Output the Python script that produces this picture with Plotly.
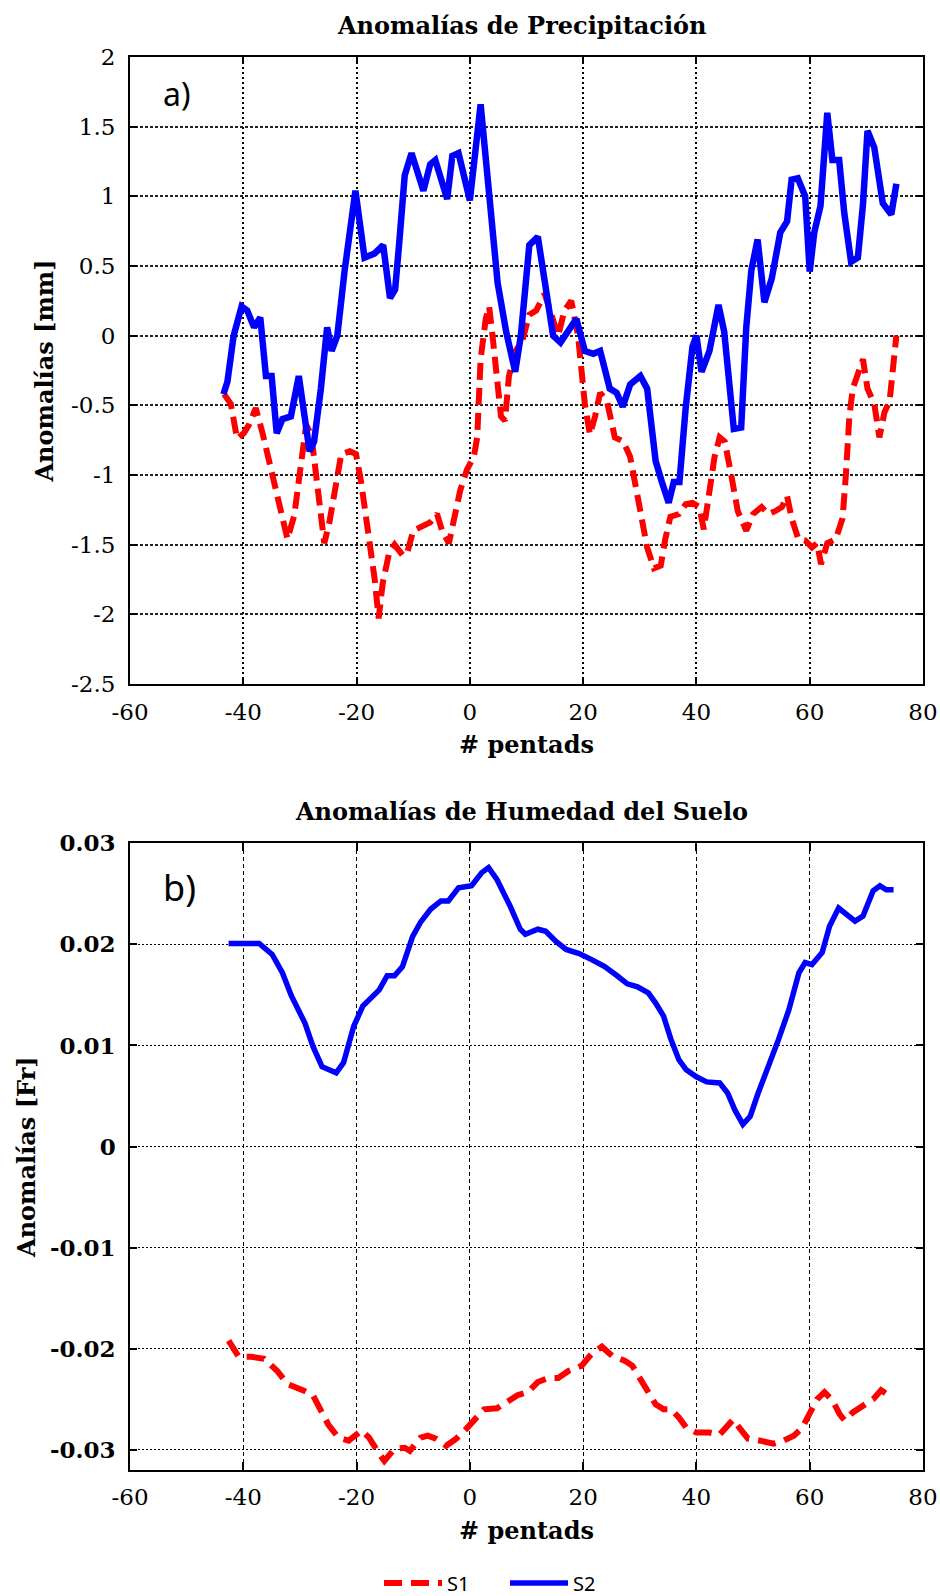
import plotly.graph_objects as go

# ---------------- data ----------------
# Panel a) precipitation anomalies [mm]
a_s1_x = [-43.4,-42.2,-41.1,-39.9,-39.0,-37.8,-36.6,-35.1,-33.3,-32.2,-31.0,-29.8,-28.9,-28.0,-27.2,-26.3,-25.7,-24.8,
          -23.6,-22.7,-21.2,-20.1,-19.2,-18.0,-16.8,-16.1,-15.4,-14.2,-13.3,-11.8,-11.0,-10.0,-8.5,-7.0,-5.8,-4.9,-3.7,
          -2.6,-1.7,-0.5,0.7,1.3,1.9,2.8,3.4,4.0,4.9,5.5,6.2,6.9,8.1,9.3,10.5,11.7,13.2,14.4,15.6,16.7,17.9,19.1,20.3,
          21.2,22.1,23.0,24.2,25.6,27.1,28.3,29.8,31.3,32.5,33.7,34.5,35.4,36.9,38.1,39.3,40.5,41.3,42.0,43.2,44.1,45.0,
          46.1,47.3,48.8,50.0,51.5,52.7,53.9,55.1,56.0,56.8,58.0,59.2,60.4,61.3,62.0,63.1,64.6,65.8,66.4,67.0,67.6,68.5,
          69.4,70.2,71.4,72.3,73.2,74.1,74.7,75.3]
a_s1_y = [-0.42,-0.49,-0.74,-0.70,-0.64,-0.52,-0.70,-0.96,-1.26,-1.46,-1.29,-0.87,-0.64,-0.71,-0.99,-1.34,-1.49,-1.34,
          -1.07,-0.85,-0.83,-0.85,-1.05,-1.37,-1.75,-2.03,-1.78,-1.55,-1.50,-1.58,-1.55,-1.40,-1.37,-1.34,-1.28,-1.40,-1.49,
          -1.28,-1.11,-0.96,-0.87,-0.73,-0.17,0.12,0.21,0.0,-0.35,-0.58,-0.61,-0.29,-0.11,-0.03,0.15,0.18,0.30,0.15,0.0,
          0.18,0.25,0.0,-0.49,-0.71,-0.58,-0.41,-0.47,-0.73,-0.76,-0.87,-1.17,-1.52,-1.67,-1.65,-1.46,-1.30,-1.28,-1.21,
          -1.20,-1.23,-1.39,-1.17,-0.87,-0.73,-0.76,-0.99,-1.26,-1.40,-1.28,-1.23,-1.28,-1.26,-1.23,-1.15,-1.31,-1.46,
          -1.47,-1.52,-1.49,-1.64,-1.49,-1.46,-1.31,-0.99,-0.58,-0.38,-0.26,-0.17,-0.38,-0.49,-0.73,-0.55,-0.47,-0.17,0.0]

a_s2_x = [-43.5,-42.8,-41.7,-40.3,-39.3,-38.1,-37.0,-36.0,-35.0,-34.1,-33.1,-31.6,-30.2,-28.3,-27.5,-26.3,-25.2,-24.4,
          -23.4,-22.1,-20.2,-18.6,-16.8,-15.3,-14.1,-13.2,-12.5,-11.5,-10.3,-8.2,-7.0,-6.1,-4.0,-3.1,-2.0,0.0,1.9,3.4,
          4.9,6.4,8.0,9.0,10.5,12.0,13.5,14.7,16.0,17.3,18.8,20.3,21.8,23.0,24.7,25.9,27.0,28.3,30.1,31.3,32.8,33.9,
          35.1,36.0,37.0,38.1,39.3,40.0,40.9,42.3,43.9,44.9,45.8,46.6,47.9,48.8,49.7,50.8,52.0,53.3,54.8,56.0,56.8,
          57.9,59.2,60.0,60.8,61.9,63.1,64.0,65.2,66.1,67.3,68.5,69.4,70.2,71.4,72.9,74.4,75.3]
a_s2_y = [-0.42,-0.33,0.0,0.21,0.18,0.06,0.13,-0.29,-0.29,-0.70,-0.60,-0.58,-0.29,-0.83,-0.76,-0.38,0.06,-0.11,
          0.0,0.47,1.04,0.56,0.59,0.65,0.27,0.33,0.65,1.15,1.31,1.04,1.23,1.26,0.98,1.29,1.31,0.97,1.66,1.0,
          0.38,0.03,-0.26,0.0,0.65,0.71,0.35,0.0,-0.05,0.03,0.12,-0.11,-0.13,-0.11,-0.38,-0.41,-0.51,-0.35,-0.29,-0.38,
          -0.90,-1.05,-1.20,-1.05,-1.05,-0.52,-0.08,0.0,-0.26,-0.11,0.22,0.03,-0.35,-0.67,-0.66,0.06,0.47,0.69,0.24,
          0.41,0.74,0.82,1.12,1.13,1.0,0.46,0.74,0.93,1.60,1.26,1.26,0.88,0.53,0.56,0.94,1.47,1.35,0.95,0.87,1.09]

# Panel b) soil moisture anomalies [Fr]
b_s1_x = [-42.6,-40.8,-38.6,-36.3,-34.0,-32.2,-29.5,-27.7,-26.4,-25.0,-23.2,-21.4,-19.1,-17.8,-16.0,-15.1,-13.3,-11.5,
          -10.6,-8.7,-7.4,-6.0,-4.2,-2.4,-0.6,1.2,2.5,4.8,6.6,8.4,10.2,12.0,13.8,15.6,17.4,19.7,21.5,23.3,25.1,27.4,
          28.7,30.1,31.5,32.8,34.2,35.5,36.9,38.2,40.0,42.3,44.1,45.5,46.5,47.7,49.1,51.3,53.6,55.4,57.2,58.6,59.9,
          61.3,62.6,64.0,65.3,66.2,67.6,69.4,71.2,72.6,74.4]
b_s1_y = [-0.0192,-0.0208,-0.0208,-0.0210,-0.0222,-0.0235,-0.0241,-0.0246,-0.0260,-0.0275,-0.0288,-0.0291,-0.0281,
          -0.0288,-0.0304,-0.0311,-0.0299,-0.0298,-0.0301,-0.0288,-0.0286,-0.0289,-0.0296,-0.0289,-0.0279,-0.0268,
          -0.0260,-0.0259,-0.0253,-0.0246,-0.0243,-0.0233,-0.0229,-0.0229,-0.0222,-0.0217,-0.0205,-0.0198,-0.0207,
          -0.0212,-0.0217,-0.0230,-0.0241,-0.0255,-0.0260,-0.0260,-0.0268,-0.0278,-0.0283,-0.0283,-0.0285,-0.0275,
          -0.0270,-0.0279,-0.0289,-0.0291,-0.0294,-0.0291,-0.0286,-0.0279,-0.0265,-0.0250,-0.0243,-0.0251,-0.0265,
          -0.0271,-0.0263,-0.0256,-0.0250,-0.0241,-0.0248]

b_s2_x = [-42.6,-37.2,-34.9,-33.1,-31.5,-29.1,-27.7,-26.1,-23.6,-22.3,-20.5,-18.9,-16.0,-14.6,-13.3,-11.9,-10.1,-8.7,
          -6.9,-5.1,-3.8,-2.0,0.3,2.1,3.3,4.8,7.1,8.9,9.8,12.0,13.4,15.2,17.0,19.3,21.5,23.8,26.0,27.8,29.6,31.5,32.8,
          34.2,35.5,36.9,38.2,40.0,41.8,44.1,45.5,46.8,48.2,49.5,50.9,52.7,54.5,56.3,58.1,59.2,60.4,62.2,63.5,65.1,
          66.2,68.0,69.4,71.2,72.4,73.5,74.8]
b_s2_y = [0.0201,0.0201,0.0190,0.0172,0.0149,0.0122,0.0099,0.0079,0.0073,0.0083,0.0119,0.0139,0.0155,0.0169,0.0169,
          0.0178,0.0208,0.0222,0.0235,0.0243,0.0243,0.0256,0.0258,0.0271,0.0276,0.0264,0.0238,0.0215,0.0210,0.0215,
          0.0213,0.0203,0.0195,0.0191,0.0185,0.0178,0.0169,0.0161,0.0158,0.0152,0.0142,0.0129,0.0106,0.0086,0.0076,
          0.0069,0.0064,0.0063,0.0053,0.0036,0.0022,0.0030,0.0053,0.0078,0.0106,0.0135,0.0172,0.0182,0.0180,0.0192,
          0.0218,0.0236,0.0231,0.0223,0.0228,0.0253,0.0258,0.0254,0.0254]

series_names = ["S1", "S2"]
x_tickvals = [-60, -40, -20, 0, 20, 40, 60, 80]
x_ticktext = ["-60", "-40", "-20", "0", "20", "40", "60", "80"]
ya_tickvals = [2, 1.5, 1, 0.5, 0, -0.5, -1, -1.5, -2, -2.5]
ya_ticktext = ["2", "1.5", "1", "0.5", "0", "-0.5", "-1", "-1.5", "-2", "-2.5"]
yb_tickvals = [0.03, 0.02, 0.01, 0, -0.01, -0.02, -0.03]
yb_ticktext = ["0.03", "0.02", "0.01", "0", "-0.01", "-0.02", "-0.03"]

title_a = "Anomalías de Precipitación"
title_b = "Anomalías de Humedad del Suelo"
ytitle_a = "Anomalías [mm]"
ytitle_b = "Anomalías [Fr]"
xtitle = "# pentads"

# ---------------- styles ----------------
RED = "#FF0000"
BLUE = "#0000FF"
SERIF = "DejaVu Serif"
SANS = "Noto Sans"

fig = go.Figure()

fig.add_trace(go.Scatter(x=a_s1_x, y=a_s1_y, mode="lines", name=series_names[0], showlegend=False,
                         line=dict(color=RED, width=6, dash="17px,8px"), xaxis="x", yaxis="y"))
fig.add_trace(go.Scatter(x=a_s2_x, y=a_s2_y, mode="lines", name=series_names[1], showlegend=False,
                         line=dict(color=BLUE, width=6.5), xaxis="x", yaxis="y"))
fig.add_trace(go.Scatter(x=b_s1_x, y=b_s1_y, mode="lines", name=series_names[0], showlegend=True,
                         line=dict(color=RED, width=6, dash="18px,9px"), xaxis="x2", yaxis="y2"))
fig.add_trace(go.Scatter(x=b_s2_x, y=b_s2_y, mode="lines", name=series_names[1], showlegend=True,
                         line=dict(color=BLUE, width=5.5), xaxis="x2", yaxis="y2"))

common_x = dict(range=[-60, 80], tickvals=x_tickvals, ticktext=x_ticktext, showline=True, mirror="ticks",
                linecolor="black", ticks="inside", tickcolor="black", zeroline=False,
                ticklabelstandoff=6)
common_y = dict(showline=True, mirror="ticks", linecolor="black", ticks="inside", tickcolor="black",
                zeroline=False, ticklabelstandoff=8)

fig.update_layout(
    width=940, height=1596,
    margin=dict(l=130, r=17, t=57, b=126, autoexpand=False),
    paper_bgcolor="white", plot_bgcolor="white",
    showlegend=True,
    xaxis=dict(**common_x, domain=[0, 1], anchor="y", linewidth=2, tickwidth=2, ticklen=7,
               showgrid=True, gridcolor="black", gridwidth=2, griddash="2px,3px",
               tickfont=dict(family=SERIF, size=23, color="black"),
               title=dict(text=xtitle, standoff=13, font=dict(family=SERIF, size=24, color="black", weight="bold"))),
    yaxis=dict(**common_y, domain=[0.5563, 1], anchor="x", range=[-2.5, 2],
               tickvals=ya_tickvals, ticktext=ya_ticktext, linewidth=2, tickwidth=2, ticklen=7,
               showgrid=True, gridcolor="#222222", gridwidth=1.6, griddash="3px,2px",
               tickfont=dict(family=SERIF, size=23, color="black"),
               title=dict(text=ytitle_a, standoff=11, font=dict(family=SERIF, size=24, color="black", weight="bold"))),
    xaxis2=dict(**common_x, domain=[0, 1], anchor="y2", linewidth=1.5, tickwidth=2, ticklen=8,
                showgrid=True, gridcolor="black", gridwidth=1, griddash="4px,3px",
                tickfont=dict(family=SERIF, size=23, color="black"),
                title=dict(text=xtitle, standoff=13, font=dict(family=SERIF, size=24, color="black", weight="bold"))),
    yaxis2=dict(**common_y, domain=[0, 0.4435], anchor="x2", range=[-0.032, 0.03],
                tickvals=yb_tickvals, ticktext=yb_ticktext, linewidth=1.5, tickwidth=2, ticklen=7,
                showgrid=True, gridcolor="black", gridwidth=1, griddash="2px,2px",
                tickfont=dict(family=SERIF, size=23, color="black", weight="bold"),
                title=dict(text=ytitle_b, standoff=8, font=dict(family=SERIF, size=24, color="black", weight="bold"))),
    legend=dict(orientation="h", x=0.314, xanchor="left", y=-0.08, yanchor="middle",
                font=dict(family=SANS, size=20, color="black"), bgcolor="rgba(0,0,0,0)",
                itemwidth=58, entrywidth=53, entrywidthmode="pixels", traceorder="normal"),
    annotations=[
        dict(text=title_a, xref="paper", yref="paper", x=0.4943, y=1.0226, showarrow=False,
             xanchor="center", yanchor="middle",
             font=dict(family=SERIF, size=24, color="black", weight="bold")),
        dict(text=title_b, xref="paper", yref="paper", x=0.4943, y=0.4659, showarrow=False,
             xanchor="center", yanchor="middle",
             font=dict(family=SERIF, size=24, color="black", weight="bold")),
        dict(text="a)", xref="paper", yref="paper", x=0.0593, y=0.9745, showarrow=False,
             xanchor="center", yanchor="middle", font=dict(family=SANS, size=32, color="black")),
        dict(text="b)", xref="paper", yref="paper", x=0.0630, y=0.412, showarrow=False,
             xanchor="center", yanchor="middle", font=dict(family=SANS, size=36, color="black")),
    ],
)

fig.write_html("out.html")
